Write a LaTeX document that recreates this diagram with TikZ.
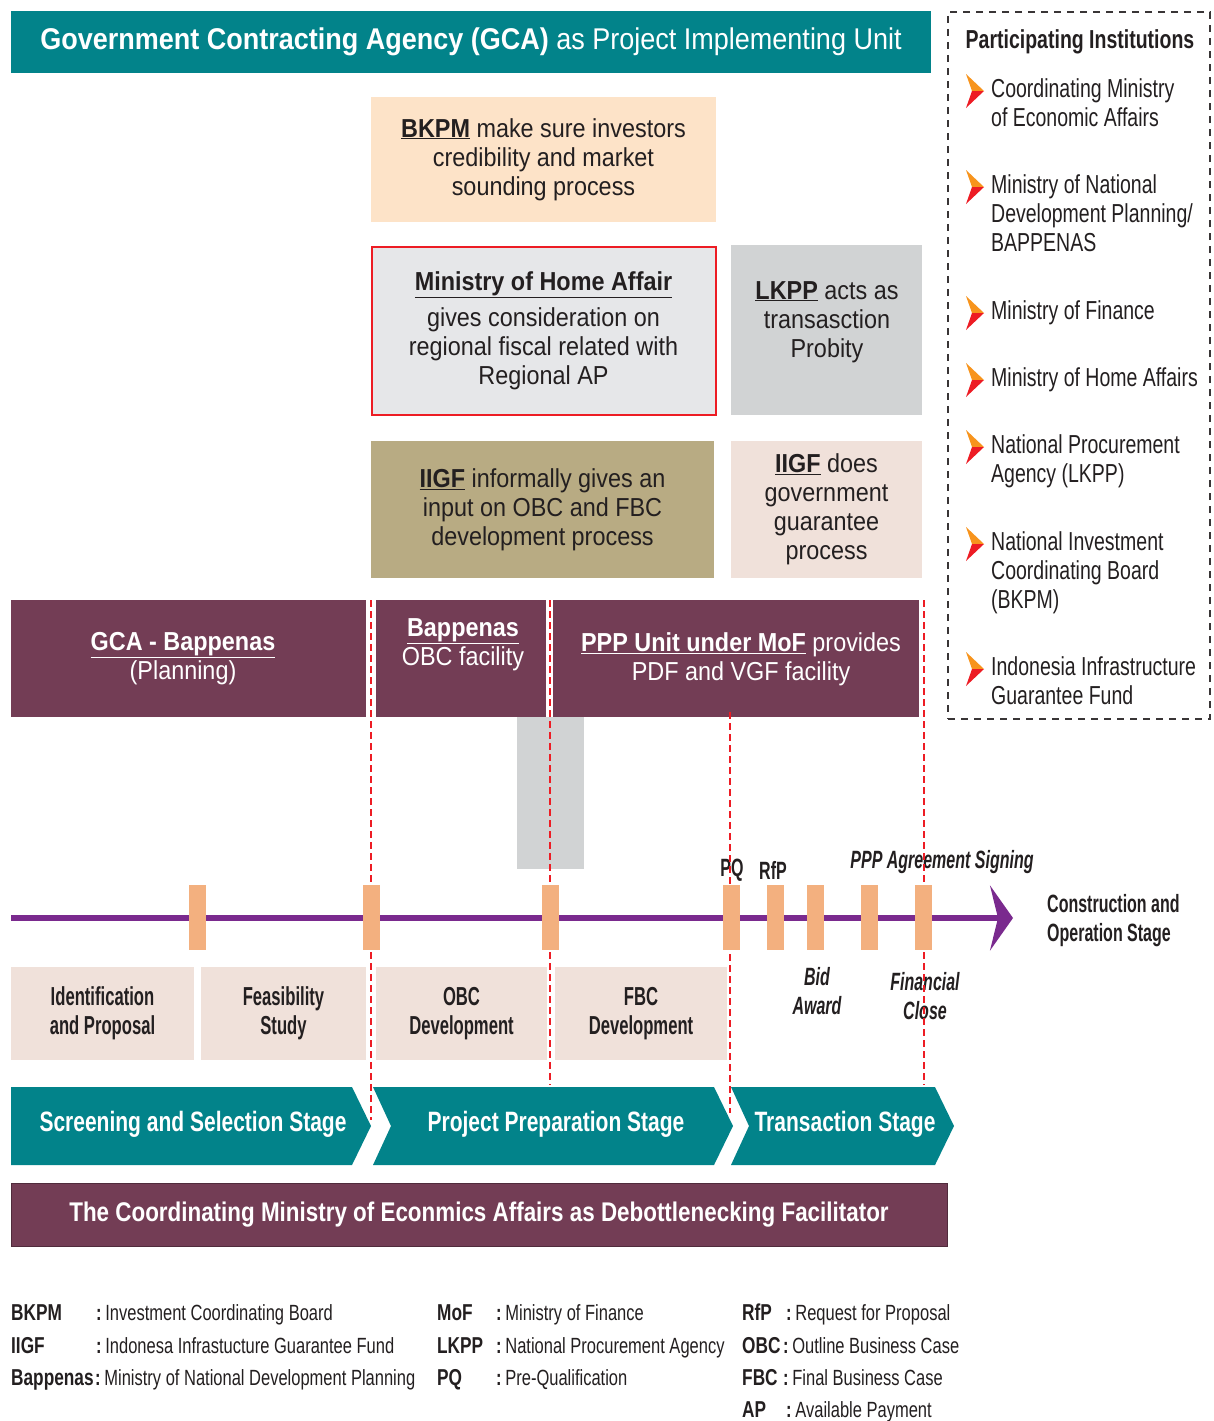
\documentclass[tikz,border=0pt]{standalone}
\usepackage{fontspec}
\usepackage{xcolor}
\usepackage{tikz}
\usetikzlibrary{arrows.meta}

\setmainfont{Liberation Sans}
\newfontfamily\regf{Liberation Sans}[FakeStretch=0.9]
\newfontfamily\midf{Liberation Sans}[FakeStretch=0.83]
\newfontfamily\narf{Liberation Sans}[FakeStretch=0.75]
\newfontfamily\cndf{Liberation Sans}[FakeStretch=0.64]
\newcommand{\fs}[2]{\fontsize{#1}{#2}\selectfont}

\definecolor{gcateal}{RGB}{2,131,138}
\definecolor{plum}{RGB}{115,61,85}
\definecolor{peach}{RGB}{253,227,200}
\definecolor{paleg}{RGB}{230,231,233}
\definecolor{midg}{RGB}{209,211,212}
\definecolor{khaki}{RGB}{184,171,131}
\definecolor{blush}{RGB}{240,225,218}
\definecolor{markorange}{RGB}{243,176,127}
\definecolor{tlpurple}{RGB}{122,42,142}
\definecolor{dashred}{RGB}{237,28,36}
\definecolor{chevor}{RGB}{247,148,29}
\definecolor{txt}{RGB}{35,31,32}

% two-tone chevron in front of each institution
\newcommand{\instmark}[2]{%
  \fill[chevor] (#1,#2-17) -- (#1+18,#2) -- (#1+6,#2) -- cycle;
  \fill[dashred] (#1+6,#2) -- (#1+18,#2) -- (#1,#2+17) -- cycle;}

\tikzset{
  panel/.style={rectangle,inner sep=0pt,align=center,text=txt},
  boxtxt/.style={font=\regf\fs{26}{29}},
  facility/.style={panel,fill=plum,text=white,minimum height=117pt},
  stepbox/.style={panel,fill=blush,minimum height=93pt,font=\cndf\bfseries\fs{26}{29}},
  milestone/.style={rectangle,inner sep=0pt,fill=markorange,minimum width=17pt,minimum height=65pt},
  mlabel/.style={inner sep=0pt,align=center,text=txt,font=\cndf\bfseries\fs{25}{29}},
  guide/.style={draw=dashred,line width=2pt,dash pattern=on 7pt off 4pt},
  stagetxt/.style={inner sep=0pt,text=white,font=\narf\bfseries\fs{28}{30}},
  abbr/.style={inner sep=0pt,anchor=base west,text=txt,font=\narf\bfseries\fs{23}{26}},
  abbrdesc/.style={inner sep=0pt,anchor=base west,text=txt,font=\narf\fs{22}{26}},
}

\begin{document}
\begin{tikzpicture}[x=1pt,y=-1pt]
\useasboundingbox (0,0) rectangle (1213,1421);

% header
\node[panel,fill=gcateal,text=white,minimum width=920pt,minimum height=62pt,font=\regf\fs{30}{36}] (title) at (471,42)
  {\textbf{Government Contracting Agency (GCA)} as Project Implementing Unit};

% participating institutions
\node[draw=txt!90,line width=1.8pt,dash pattern=on 7pt off 6pt,minimum width=262pt,minimum height=707pt,inner sep=0pt] (inst) at (1079,365.5) {};
\node[inner sep=0pt,text=txt,font=\narf\bfseries\fs{26}{29}] (insthead) at (1080,42) {Participating Institutions};
\foreach \yy/\txt [count=\i] in {88/{Coordinating Ministry\\of Economic Affairs},
    184/{Ministry of National\\Development Planning/\\BAPPENAS},
    310/{Ministry of Finance},
    377/{Ministry of Home Affairs},
    444/{National Procurement\\Agency (LKPP)},
    541/{National Investment\\Coordinating Board\\(BKPM)},
    666/{Indonesia Infrastructure\\Guarantee Fund}} {
  \instmark{966}{\yy+3}
  \node[inner sep=0pt,anchor=north west,align=left,text=txt,font=\narf\fs{26}{29}] (inst\i) at (991,\yy-9.5) {\txt};
}

% roles
\node[panel,boxtxt,fill=peach,minimum width=345pt,minimum height=125pt] (bkpm) at (543.5,159.5)
  {\underline{\textbf{BKPM}} make sure investors\\credibility and market\\sounding process};
\node[panel,boxtxt,fill=paleg,draw=dashred,line width=2pt,minimum width=344pt,minimum height=168pt] (mha) at (543.5,331)
  {\underline{\textbf{Ministry of Home Affair}}\\[7pt]gives consideration on\\regional fiscal related with\\Regional AP};
\node[panel,fill=midg,minimum width=191pt,minimum height=170pt] (lkpp) at (826.5,330) {};
\node[panel,boxtxt] (lkpptxt) at (827,322) {\underline{\textbf{LKPP}} acts as\\transasction\\Probity};
\node[panel,boxtxt,fill=khaki,minimum width=343pt,minimum height=137pt] (iigfa) at (542.5,509.5)
  {\underline{\textbf{IIGF}} informally gives an\\input on OBC and FBC\\development process};
\node[panel,boxtxt,fill=blush,minimum width=191pt,minimum height=137pt] (iigfb) at (826.5,509.5)
  {\underline{\textbf{IIGF}} does\\government\\guarantee\\process};

% facilities
\node[facility,minimum width=355pt] (gcab) at (188.5,658.5) {};
\node[panel,boxtxt,text=white] (gcabtxt) at (183,659) {\underline{\textbf{GCA - Bappenas}}\\(Planning)};
\node[facility,minimum width=170pt] (bapp) at (461,658.5) {};
\node[panel,boxtxt,text=white] (bapptxt) at (463,645) {\underline{\textbf{Bappenas}}\\OBC facility};
\node[facility,minimum width=366pt] (pppu) at (736,658.5) {};
\node[panel,boxtxt,text=white] (ppputxt) at (741,659) {\underline{\textbf{PPP Unit under MoF}} provides\\PDF and VGF facility};
\node[panel,fill=midg,minimum width=67pt,minimum height=152pt] (obcgap) at (550.5,793) {};

% milestone labels
\node[mlabel] (pq) at (732,870) {PQ};
\node[mlabel] (rfp) at (773,870) {RfP};
\node[mlabel,font=\cndf\bfseries\itshape\fs{25}{29}] (signing) at (942,862) {PPP Agreement Signing};
\node[mlabel,font=\cndf\bfseries\itshape\fs{25}{29}] (bid) at (817,991) {Bid\\Award};
\node[mlabel,font=\cndf\bfseries\itshape\fs{25}{29}] (fclose) at (925,996) {Financial\\Close};
\node[mlabel,anchor=west,align=left] (constr) at (1047,921) {Construction and\\Operation Stage};

% guide lines
\foreach \xx/\ya/\yb [count=\i] in {371/600/1120,550/600/1085,730/712/1113,924/600/1085} {
  \coordinate (gtop\i) at (\xx,\ya);
  \coordinate (gbot\i) at (\xx,\yb);
  \draw[guide] (gtop\i) -- (gbot\i);
}

% timeline
\coordinate (tlstart) at (11,918);
\coordinate (tltip) at (1013,918);
\draw[line width=6pt,tlpurple,-{Stealth[length=23pt,width=65pt,inset=8pt]}] (tlstart) -- (tltip);
\foreach \xx [count=\i] in {197,371,550,731,775,815,869,923}
  \node[milestone] (ms\i) at (\xx,917.5) {};

% steps
\node[stepbox,minimum width=183pt] (idp) at (102.5,1013.5) {Identification\\and Proposal};
\node[stepbox,minimum width=165pt] (fsb) at (283.5,1013.5) {Feasibility\\Study};
\node[stepbox,minimum width=171pt] (obc) at (461.5,1013.5) {OBC\\Development};
\node[stepbox,minimum width=172pt] (fbc) at (641,1013.5) {FBC\\Development};

% stages
\fill[gcateal] (11,1087) -- (352,1087) -- (371,1126) -- (352,1165) -- (11,1165) -- cycle;
\fill[gcateal] (373,1087) -- (714,1087) -- (733,1126) -- (714,1165) -- (373,1165) -- (391,1126) -- cycle;
\fill[gcateal] (731,1087) -- (935,1087) -- (954,1126) -- (935,1165) -- (731,1165) -- (749,1126) -- cycle;
\node[stagetxt] (stage1) at (193,1124) {Screening and Selection Stage};
\node[stagetxt] (stage2) at (556,1124) {Project Preparation Stage};
\node[stagetxt] (stage3) at (845,1124) {Transaction Stage};

\node[panel,fill=plum,draw=plum!70!black,line width=1pt,minimum width=936pt,minimum height=63pt,text=white,font=\midf\bfseries\fs{27}{30}] (facil) at (479,1214.5)
  {The Coordinating Ministry of Econmics Affairs as Debottlenecking Facilitator};

% abbreviations
\foreach \ax/\cx/\yy/\ab/\desc [count=\i] in {
    11/96/1312/BKPM/Investment Coordinating Board,
    11/96/1345/IIGF/Indonesa Infrastucture Guarantee Fund,
    11/95/1377/Bappenas/Ministry of National Development Planning,
    437/496/1312/MoF/Ministry of Finance,
    437/496/1345/LKPP/National Procurement Agency,
    437/496/1377/PQ/Pre-Qualification,
    742/786/1312/RfP/Request for Proposal,
    742/783/1345/OBC/Outline Business Case,
    742/783/1377/FBC/Final Business Case,
    742/786/1409/AP/Available Payment} {
  \node[abbr] (ab\i) at (\ax,\yy+8) {\ab};
  \node[abbrdesc] (de\i) at (\cx,\yy+8) {\textbf{:}\,\desc};
}
\end{tikzpicture}
\end{document}
